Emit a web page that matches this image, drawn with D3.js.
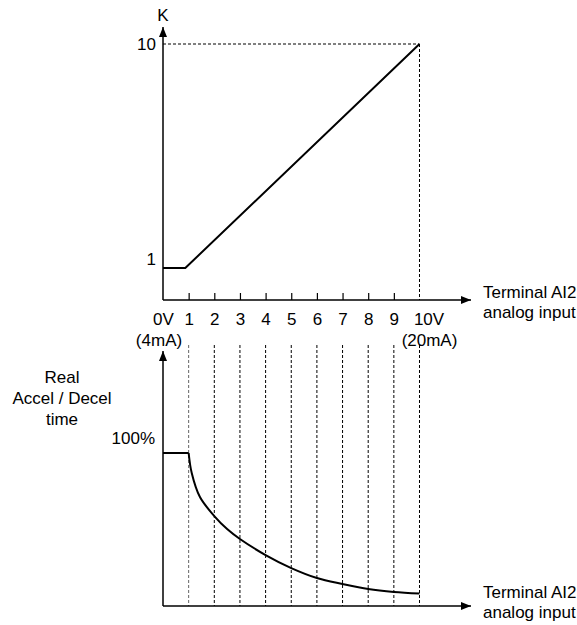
<!DOCTYPE html>
<html>
<head>
<meta charset="utf-8">
<script src="https://cdn.jsdelivr.net/npm/d3@7"></script>
<style>
  body { margin: 0; background: #fff; }
  text { font-family: "Liberation Sans", Arial, sans-serif; font-size: 17px; fill: #000; }
</style>
</head>
<body>
<div id="chart"></div>
<script>
// Input voltage positions and their labels
const inputTicks = [0, 1, 2, 3, 4, 5, 6, 7, 8, 9, 10];
const tickLabels = ["0V", "1", "2", "3", "4", "5", "6", "7", "8", "9", "10V"];
const currentLabels = ["(4mA)", "(20mA)"];
const guideTicks = [1, 2, 3, 4, 5, 6, 7, 8, 9, 10];

// Upper chart: gain K vs input
const kTicks = [1, 10];
const kInput = [0, 0.87, 10];
const kValues = [1, 1, 10];

// Lower chart: real accel/decel time (% of setting) vs input
const flatInput = [0, 1];
const flatPct = [100, 100];
const timeInput = [1, 1.12, 1.44, 2, 2.5, 3, 4, 5, 6, 7, 8, 9, 10];
const timePct = [100, 86.9, 71.2, 58.8, 50.3, 43.8, 33.3, 24.8, 18.3, 14.4, 11.1, 9.2, 8.2];

const W = 577, H = 625;
const svg = d3.select("#chart").append("svg").attr("width", W).attr("height", H);

// arrow head
svg.append("defs").append("marker")
  .attr("id", "arrow")
  .attr("viewBox", "0 0 10 8")
  .attr("refX", 10).attr("refY", 4)
  .attr("markerWidth", 10).attr("markerHeight", 8)
  .attr("markerUnits", "userSpaceOnUse")
  .attr("orient", "auto")
  .append("path").attr("d", "M0,0L10,4L0,8Z").attr("fill", "#000");

const x = d3.scaleLinear().domain([0, 10]).range([163, 419.5]);
const yK = d3.scaleLinear().domain([1, 10]).range([268, 44]);
const yT = d3.scaleLinear().domain([0, 100]).range([606, 453]);

const axisTop = 300, axisBot = 606, xEnd = 471;

// ---- dashed guides
svg.append("line")
  .attr("x1", x(0)).attr("x2", x(10))
  .attr("y1", yK(10)).attr("y2", yK(10))
  .attr("stroke", "#000").attr("stroke-width", 1).attr("stroke-dasharray", "3,2");
svg.append("line")
  .attr("x1", x(10)).attr("x2", x(10))
  .attr("y1", yK(10)).attr("y2", axisTop)
  .attr("stroke", "#000").attr("stroke-width", 1).attr("stroke-dasharray", "3,2");

svg.selectAll(".guide")
  .data(guideTicks)
  .enter()
  .append("line")
  .attr("class", "guide")
  .attr("x1", (d) => x(d)).attr("x2", (d) => x(d))
  .attr("y1", 345).attr("y2", axisBot)
  .attr("stroke", (d) => (d === 1 ? "#666" : "#000"))
  .attr("stroke-width", 1)
  .attr("stroke-dasharray", "3,2");

// ---- upper chart axes
const gx = svg.append("g")
  .attr("transform", `translate(0,${axisTop})`)
  .call(d3.axisBottom(x)
    .tickValues(inputTicks)
    .tickFormat((d, i) => tickLabels[i])
    .tickSizeInner(-7)
    .tickSizeOuter(0)
    .tickPadding(13));
gx.attr("font-family", null).attr("font-size", null);
gx.select(".domain").remove();
gx.selectAll(".tick line")
  .attr("stroke", "#000").attr("stroke-width", 1.2)
  .filter((d) => d === 0 || d === 10).remove();
gx.selectAll(".tick text")
  .attr("dx", (d) => (d === 10 ? 9 : 0));

svg.append("line")
  .attr("x1", x(0)).attr("x2", xEnd)
  .attr("y1", axisTop).attr("y2", axisTop)
  .attr("stroke", "#000").attr("stroke-width", 1.5)
  .attr("marker-end", "url(#arrow)");
svg.append("line")
  .attr("x1", x(0)).attr("x2", x(0))
  .attr("y1", axisTop).attr("y2", 27)
  .attr("stroke", "#000").attr("stroke-width", 1.5)
  .attr("marker-end", "url(#arrow)");

svg.append("text").attr("x", x(0)).attr("y", 21)
  .attr("text-anchor", "middle").text("K");

svg.selectAll(".kTick")
  .data(kTicks)
  .enter()
  .append("text")
  .attr("class", "kTick")
  .attr("x", 156)
  .attr("y", (d) => yK(d) + (d === 1 ? -3 : 6))
  .attr("text-anchor", "end")
  .text((d) => d);

svg.selectAll(".cur")
  .data(currentLabels)
  .enter()
  .append("text")
  .attr("class", "cur")
  .attr("x", (d, i) => (i === 0 ? x(0) - 4 : x(10) + 10))
  .attr("y", 346)
  .attr("text-anchor", "middle")
  .text((d) => d);

svg.append("text").attr("x", 483).attr("y", 298).text("Terminal AI2");
svg.append("text").attr("x", 483).attr("y", 318).text("analog input");

// K line
const kData = kInput.map((v, i) => ({ v, k: kValues[i] }));
svg.append("path")
  .datum(kData)
  .attr("fill", "none")
  .attr("stroke", "#000")
  .attr("stroke-width", 2)
  .attr("d", d3.line().x((d) => x(d.v)).y((d) => yK(d.k)));

// ---- lower chart axes
svg.append("line")
  .attr("x1", x(0)).attr("x2", xEnd)
  .attr("y1", axisBot).attr("y2", axisBot)
  .attr("stroke", "#000").attr("stroke-width", 1.5)
  .attr("marker-end", "url(#arrow)");
svg.append("line")
  .attr("x1", x(0)).attr("x2", x(0))
  .attr("y1", axisBot).attr("y2", 351)
  .attr("stroke", "#000").attr("stroke-width", 1.5)
  .attr("marker-end", "url(#arrow)");

svg.append("text").attr("x", 155).attr("y", 444)
  .attr("text-anchor", "end").text("100%");

const yTitle = svg.append("text").attr("text-anchor", "middle");
["Real", "Accel / Decel", "time"].forEach((t, i) => {
  yTitle.append("tspan").attr("x", 62).attr("y", 383 + i * 21).text(t);
});

svg.append("text").attr("x", 483).attr("y", 598).text("Terminal AI2");
svg.append("text").attr("x", 483).attr("y", 618).text("analog input");

// time curve: flat part, then decay
const flatData = flatInput.map((v, i) => ({ v, p: flatPct[i] }));
svg.append("path")
  .datum(flatData)
  .attr("fill", "none")
  .attr("stroke", "#000")
  .attr("stroke-width", 2)
  .attr("d", d3.line().x((d) => x(d.v)).y((d) => yT(d.p)));

const tData = timeInput.map((v, i) => ({ v, p: timePct[i] }));
svg.append("path")
  .datum(tData)
  .attr("fill", "none")
  .attr("stroke", "#000")
  .attr("stroke-width", 2)
  .attr("d", d3.line().x((d) => x(d.v)).y((d) => yT(d.p)).curve(d3.curveCatmullRom.alpha(0.5)));
</script>
</body>
</html>
